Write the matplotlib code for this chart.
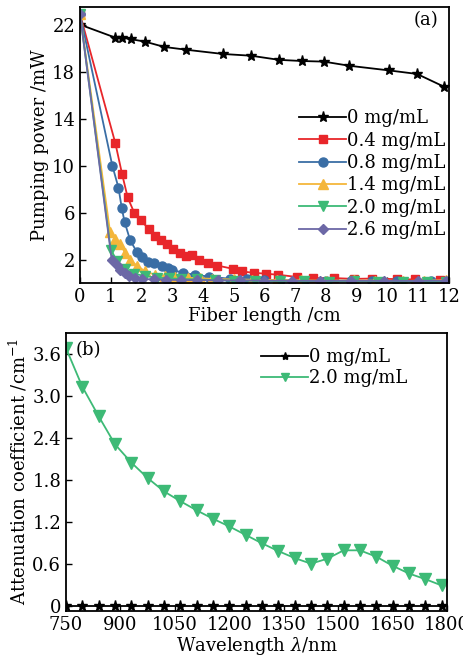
import matplotlib
matplotlib.use("Agg")
import matplotlib.pyplot as plt

plt.rcParams['font.family'] = ['DejaVu Serif']
plt.rcParams['mathtext.fontset'] = 'dejavuserif'

# ---- panel (a) data ----
x_0 = [0.0, 1.14, 1.36, 1.65, 2.1, 2.74, 3.46, 4.65, 5.57, 6.47, 7.23, 7.93, 8.75, 10.05, 10.96, 11.85]
y_0 = [22.0, 20.9, 20.9, 20.76, 20.56, 20.1, 19.86, 19.5, 19.35, 19.0, 18.9, 18.85, 18.5, 18.1, 17.8, 16.7]

x_04 = [0, 1.15, 1.37, 1.55, 1.76, 1.98, 2.23, 2.45, 2.64, 2.83, 3.04, 3.25, 3.45, 3.65, 3.87, 4.15,
        4.46, 4.97, 5.27, 5.65, 6.05, 6.45, 7.07, 7.58, 8.25, 8.9, 9.5, 10.3, 10.9, 11.7]
y_04 = [22.9, 11.9, 9.26, 7.29, 6.0, 5.35, 4.6, 3.98, 3.7, 3.35, 2.9, 2.55, 2.3, 2.35, 2.0, 1.72,
        1.49, 1.21, 0.98, 0.87, 0.79, 0.70, 0.51, 0.42, 0.42, 0.35, 0.38, 0.33, 0.3, 0.25]

x_08 = [0, 1.05, 1.25, 1.36, 1.45, 1.63, 1.85, 2.01, 2.2, 2.42, 2.68, 2.85, 3.0, 3.35, 3.75, 4.18,
        4.87, 5.43, 6.0, 6.5, 7.3, 8.0, 8.8, 9.5, 10.3, 11.4]
y_08 = [22.9, 10.0, 8.13, 6.35, 5.2, 3.65, 2.63, 2.2, 1.78, 1.7, 1.45, 1.3, 1.12, 0.87, 0.7, 0.55,
        0.36, 0.3, 0.28, 0.25, 0.2, 0.18, 0.2, 0.15, 0.18, 0.15]

x_14 = [0, 0.98, 1.14, 1.3, 1.47, 1.63, 1.85, 2.12, 2.45, 2.75, 3.1, 3.5, 3.9, 4.3, 5.0, 5.6,
        6.4, 7.2, 8.0, 8.9, 9.6, 10.5, 11.2, 11.9]
y_14 = [22.9, 4.3, 3.75, 3.3, 2.57, 1.92, 1.49, 0.98, 0.7, 0.6, 0.5, 0.45, 0.4, 0.35, 0.3, 0.28,
        0.25, 0.22, 0.2, 0.22, 0.2, 0.18, 0.2, 0.25]

x_20 = [0, 1.0, 1.2, 1.45, 1.75, 2.1, 2.5, 2.9, 3.3, 3.8, 4.4, 5.0, 5.7, 6.5, 7.3, 8.1, 8.9, 9.7, 10.5, 11.3, 11.9]
y_20 = [22.9, 2.85, 1.9, 1.2, 0.8, 0.6, 0.45, 0.4, 0.35, 0.3, 0.25, 0.2, 0.2, 0.15, 0.15, 0.12, 0.15, 0.12, 0.1, 0.1, 0.1]

x_26 = [0, 1.03, 1.2, 1.3, 1.45, 1.6, 1.8, 2.0, 2.4, 2.8, 3.3, 3.8, 4.5, 5.2, 6.0, 6.9, 7.8, 8.8, 9.9, 11.0, 11.9]
y_26 = [22.9, 2.0, 1.5, 1.1, 0.85, 0.6, 0.45, 0.35, 0.3, 0.28, 0.25, 0.25, 0.22, 0.22, 0.2, 0.2, 0.18, 0.2, 0.18, 0.18, 0.2]

# ---- panel (b) data ----
wavelength = [750, 795, 840, 885, 930, 975, 1020, 1065, 1110, 1155, 1200, 1245, 1290, 1335,
              1380, 1425, 1470, 1515, 1560, 1605, 1650, 1695, 1740, 1785]
att_0 = [0.0] * 24
att_20 = [3.68, 3.13, 2.71, 2.31, 2.05, 1.83, 1.64, 1.50, 1.37, 1.25, 1.14, 1.02, 0.90, 0.79,
          0.69, 0.61, 0.68, 0.80, 0.80, 0.71, 0.58, 0.47, 0.39, 0.30]

RED = '#e8262a'
BLUE = '#3a6ea5'
YELLOW = '#f4b63a'
GREEN = '#3dba76'
PURPLE = '#6c68a6'

fig = plt.figure(figsize=(4.64, 6.63), dpi=100)
FS = 13

# ---- panel (a) ----
ax1 = fig.add_axes([80/464, 1-283/663, 369/464, 276/663])
ax1.plot(x_0, y_0, color='black', marker='*', ms=8, lw=1.3, label='0 mg/mL')
ax1.plot(x_04, y_04, color=RED, marker='s', ms=6, lw=1.3, label='0.4 mg/mL')
ax1.plot(x_08, y_08, color=BLUE, marker='o', ms=6.5, lw=1.3, label='0.8 mg/mL')
ax1.plot(x_14, y_14, color=YELLOW, marker='^', ms=7, lw=1.3, label='1.4 mg/mL')
ax1.plot(x_20, y_20, color=GREEN, marker='v', ms=7, lw=1.3, label='2.0 mg/mL')
ax1.plot(x_26, y_26, color=PURPLE, marker='D', ms=5.5, lw=1.3, label='2.6 mg/mL')
ax1.set_xlim(0, 12)
ax1.set_ylim(0, 23.5)
ax1.set_xticks(range(0, 13))
ax1.set_yticks([2, 6, 10, 14, 18, 22])
ax1.tick_params(direction='in', labelsize=FS, length=4, width=1)
ax1.set_xlabel('Fiber length /cm', fontsize=FS, labelpad=1)
ax1.set_ylabel('Pumping power /mW', fontsize=FS, labelpad=2)
for s in ax1.spines.values():
    s.set_linewidth(1.3)
ax1.text(0.97, 0.985, '(a)', transform=ax1.transAxes, ha='right', va='top', fontsize=FS)
ax1.legend(loc='upper right', bbox_to_anchor=(1.01, 0.655), frameon=False, fontsize=FS,
           handlelength=2.6, handletextpad=0.05, labelspacing=0.24, borderaxespad=0)

# ---- panel (b) ----
ax2 = fig.add_axes([66/464, 1-610.7/663, 381/464, 278/663])
ax2.plot(wavelength, att_0, color='black', marker='*', ms=8, lw=1.3, label='0 mg/mL')
ax2.plot(wavelength, att_20, color=GREEN, marker='v', ms=8, lw=1.3, label='2.0 mg/mL')
ax2.set_xlim(750, 1800)
ax2.set_ylim(-0.06, 3.9)
ax2.set_xticks([750, 900, 1050, 1200, 1350, 1500, 1650, 1800])
ax2.set_yticks([0, 0.6, 1.2, 1.8, 2.4, 3.0, 3.6])
ax2.set_yticklabels(['0', '0.6', '1.2', '1.8', '2.4', '3.0', '3.6'])
ax2.tick_params(direction='in', labelsize=FS, length=4, width=1)
ax2.set_xlabel('Wavelength $\\lambda$/nm', fontsize=FS, labelpad=1)
ax2.set_ylabel('Attenuation coefficient /cm$^{-1}$', fontsize=FS, labelpad=2)
for s in ax2.spines.values():
    s.set_linewidth(1.3)
ax2.text(0.025, 0.97, '(b)', transform=ax2.transAxes, ha='left', va='top', fontsize=FS)
ax2.legend(loc='upper right', bbox_to_anchor=(0.915, 0.97), frameon=False, fontsize=FS,
           handlelength=2.6, handletextpad=0.05, labelspacing=0.15, borderaxespad=0,
           markerscale=0.75)

fig.savefig('out.png', dpi=100)
